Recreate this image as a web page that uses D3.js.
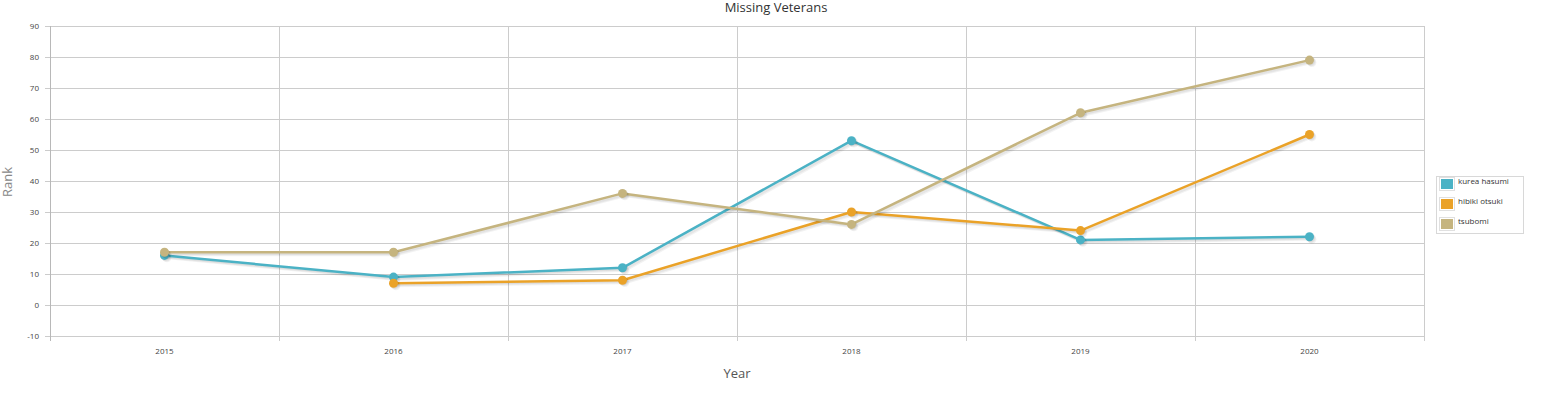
<!DOCTYPE html>
<html>
<head>
<meta charset="utf-8">
<script src="https://cdn.jsdelivr.net/npm/d3@7"></script>
<style>
  body { margin: 0; background: #fff; }
  svg { display: block; }
</style>
</head>
<body>
<div id="chart"></div>
<script>
var years = ["2015", "2016", "2017", "2018", "2019", "2020"]
var kurea = [16, 9, 12, 53, 21, 22]
var hibiki = [null, 7, 8, 30, 24, 55]
var tsubomi = [17, 17, 36, 26, 62, 79]
var seriesNames = ["kurea hasumi", "hibiki otsuki", "tsubomi"]
var seriesColors = ["#4bb2c5", "#eaa228", "#c5b47f"]
var yTicks = [-10, 0, 10, 20, 30, 40, 50, 60, 70, 80, 90]

var series = [kurea, hibiki, tsubomi]

var width = 1548, height = 394
var plotLeft = 50, plotRight = 1424, plotTop = 26, plotBottom = 336

var svg = d3.select("#chart").append("svg")
    .attr("width", width)
    .attr("height", height)
    .style("font-family", "'Open Sans', 'DejaVu Sans', sans-serif")

var x = d3.scaleBand().domain(years).range([plotLeft, plotRight])
var y = d3.scaleLinear().domain([-10, 90]).range([plotBottom, plotTop])

// grid
var grid = svg.append("g")
grid.selectAll("line.h")
  .data(yTicks)
  .join("line")
    .attr("class", "h")
    .attr("x1", plotLeft - 5).attr("x2", plotRight)
    .attr("y1", d => Math.round(y(d)) + 0.5).attr("y2", d => Math.round(y(d)) + 0.5)
    .attr("stroke", "#cccccc")

var edges = years.map(d => x(d)).concat([plotRight])
grid.selectAll("line.v")
  .data(edges)
  .join("line")
    .attr("class", "v")
    .attr("x1", d => Math.round(d) + 0.5).attr("x2", d => Math.round(d) + 0.5)
    .attr("y1", plotTop).attr("y2", plotBottom + 5)
    .attr("stroke", "#cccccc")

grid.append("line")
    .attr("x1", plotLeft + 0.5).attr("x2", plotLeft + 0.5)
    .attr("y1", plotTop).attr("y2", plotBottom + 5)
    .attr("stroke", "#b8b8b8")

// y tick labels
svg.append("g")
  .selectAll("text")
  .data(yTicks)
  .join("text")
    .attr("x", plotLeft - 11)
    .attr("y", d => y(d))
    .attr("dy", "0.35em")
    .attr("text-anchor", "end")
    .attr("font-size", 8)
    .attr("fill", "#444")
    .text(d => d)

// x tick labels
svg.append("g")
  .selectAll("text")
  .data(years)
  .join("text")
    .attr("x", d => x(d) + x.bandwidth() / 2)
    .attr("y", plotBottom + 18)
    .attr("text-anchor", "middle")
    .attr("font-size", 8)
    .attr("fill", "#444")
    .text(d => d)

// titles
svg.append("text")
    .attr("x", width / 2 + 2)
    .attr("y", 12)
    .attr("text-anchor", "middle")
    .attr("font-size", 13)
    .attr("fill", "#333")
    .text("Missing Veterans")

svg.append("text")
    .attr("x", 737)
    .attr("y", 378)
    .attr("text-anchor", "middle")
    .attr("font-size", 13)
    .attr("fill", "#555")
    .text("Year")

svg.append("text")
    .attr("transform", "translate(12," + 182 + ") rotate(-90)")
    .attr("text-anchor", "middle")
    .attr("font-size", 13)
    .attr("fill", "#888")
    .text("Rank")

// lines
var line = d3.line()
    .defined(d => d.v != null)
    .x(d => x(d.year) + x.bandwidth() / 2)
    .y(d => y(d.v))

series.forEach(function (vals, i) {
  var pts = vals.map((v, j) => ({year: years[j], v: v}))
  var g = svg.append("g")

  // shadow
  for (var k = 1; k <= 3; k++) {
    g.append("path")
        .datum(pts)
        .attr("d", line)
        .attr("transform", "translate(" + (k * 0.9) + "," + (k * 0.9) + ")")
        .attr("fill", "none")
        .attr("stroke", "#000")
        .attr("stroke-opacity", 0.05)
        .attr("stroke-width", 2.5)
  }

  g.append("path")
      .datum(pts)
      .attr("d", line)
      .attr("fill", "none")
      .attr("stroke", seriesColors[i])
      .attr("stroke-width", 2.5)
      .attr("stroke-linejoin", "round")

  var valid = pts.filter(d => d.v != null)
  for (var k = 1; k <= 3; k++) {
    g.selectAll("circle.s" + k)
      .data(valid)
      .join("circle")
        .attr("class", "s" + k)
        .attr("cx", d => x(d.year) + x.bandwidth() / 2 + k * 0.8)
        .attr("cy", d => y(d.v) + k * 0.8)
        .attr("r", 4.5)
        .attr("fill", "#000")
        .attr("fill-opacity", 0.05)
  }
  g.selectAll("circle.m")
    .data(valid)
    .join("circle")
      .attr("class", "m")
      .attr("cx", d => x(d.year) + x.bandwidth() / 2)
      .attr("cy", d => y(d.v))
      .attr("r", 4.5)
      .attr("fill", seriesColors[i])
})

// legend
var lg = svg.append("g").attr("transform", "translate(1436,176)")
lg.append("rect")
    .attr("x", 0.5).attr("y", 0.5)
    .attr("width", 87).attr("height", 57)
    .attr("fill", "#fff")
    .attr("stroke", "#d8d8d8")

var items = lg.selectAll("g.item")
  .data(seriesNames)
  .join("g")
    .attr("class", "item")
    .attr("transform", (d, i) => "translate(0," + (i * 20) + ")")

items.append("rect")
    .attr("x", 3.5).attr("y", 1.5)
    .attr("width", 15).attr("height", 13)
    .attr("fill", "none")
    .attr("stroke", "#e0e0e0")
items.append("rect")
    .attr("x", 5).attr("y", 3)
    .attr("width", 12).attr("height", 10)
    .attr("fill", (d, i) => seriesColors[i])
items.append("text")
    .attr("x", 22)
    .attr("y", 5)
    .attr("dy", "0.35em")
    .attr("font-size", 8)
    .attr("fill", "#333")
    .text(d => d)
</script>
</body>
</html>
